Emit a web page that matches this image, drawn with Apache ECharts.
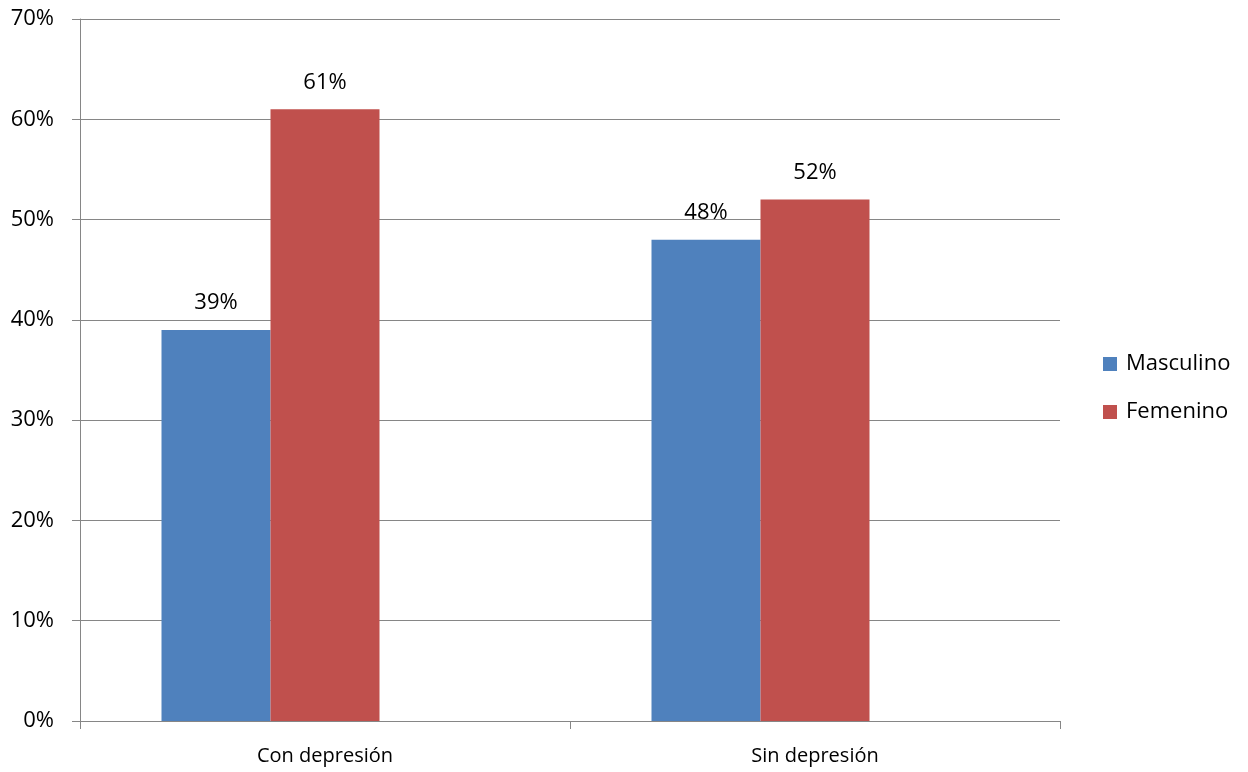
<!DOCTYPE html>
<html style="height: 100%">
<head>
    <meta charset="utf-8">
</head>
<body style="height: 100%; margin: 0; background: #ffffff">
<div id="container" style="width: 1248px; height: 772px"></div>
<script type="text/javascript" src="https://cdn.jsdelivr.net/npm/echarts@6/dist/echarts.min.js"></script>
<script type="text/javascript">
    // datos del grafico
    var categorias = ['Con depresión', 'Sin depresión'];
    var masculino = [39, 48];
    var femenino = [61, 52];
    var vacia = [null, null]; // serie vacia (ocupa hueco como en el original)
    var ticksY = [0, 10, 20, 30, 40, 50, 60, 70];

    var fuente = '"Open Sans", "Liberation Sans", sans-serif';
    var dom = document.getElementById("container");
    var myChart = echarts.init(dom);

    var etiqueta = {
        show: true,
        position: 'top',
        distance: 16,
        formatter: '{c}%',
        color: '#000',
        fontSize: 22,
        fontFamily: fuente
    };

    var option = {
        backgroundColor: '#ffffff',
        animation: false,
        grid: {
            left: 80,
            right: 188,
            top: 19,
            bottom: 51
        },
        legend: {
            orient: 'vertical',
            left: 1103,
            top: 352,
            padding: 0,
            itemWidth: 14,
            itemHeight: 14,
            itemGap: 24,
            icon: 'rect',
            textStyle: {
                fontSize: 22,
                lineHeight: 24,
                fontFamily: fuente,
                color: '#000',
                padding: [0, 0, 0, 4]
            },
            data: ['Masculino', 'Femenino']
        },
        xAxis: {
            type: 'category',
            data: categorias,
            axisLine: {lineStyle: {color: '#868686', width: 1}},
            axisTick: {show: true, length: 8, lineStyle: {color: '#868686'}},
            axisLabel: {
                fontSize: 20,
                fontFamily: fuente,
                color: '#000',
                margin: 25
            }
        },
        yAxis: {
            type: 'value',
            min: ticksY[0],
            max: ticksY[ticksY.length - 1],
            interval: 10,
            axisLine: {show: true, lineStyle: {color: '#868686', width: 1}},
            axisTick: {show: true, length: 8, lineStyle: {color: '#868686'}},
            splitLine: {show: true, lineStyle: {color: '#868686', width: 1}},
            axisLabel: {
                formatter: '{value}%',
                fontSize: 22,
                fontFamily: fuente,
                color: '#000',
                margin: 26
            }
        },
        series: [
            {
                name: 'Masculino',
                type: 'bar',
                data: masculino,
                barWidth: 109,
                barGap: '0%',
                itemStyle: {color: '#4F81BD'},
                label: etiqueta
            },
            {
                name: 'Femenino',
                type: 'bar',
                data: femenino,
                barWidth: 109,
                barGap: '0%',
                itemStyle: {color: '#C0504D'},
                label: etiqueta
            },
            {
                name: 'vacia',
                type: 'bar',
                data: vacia,
                barWidth: 109,
                barGap: '0%',
                itemStyle: {color: '#9BBB59'}
            }
        ]
    };
    myChart.setOption(option, true);
</script>
</body>
</html>
